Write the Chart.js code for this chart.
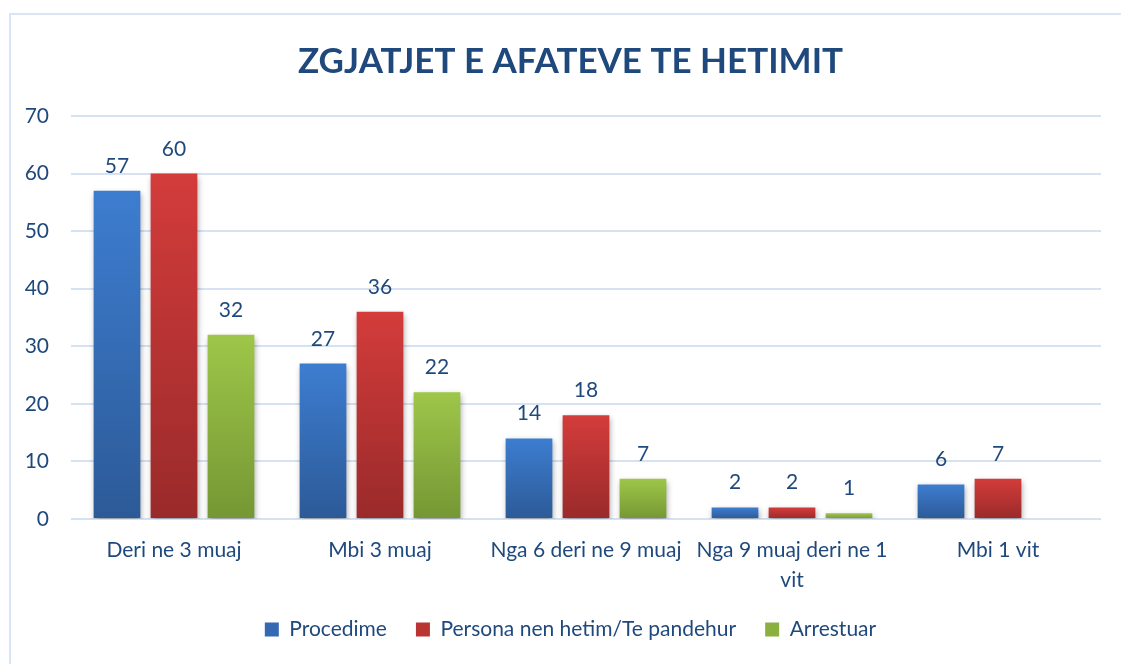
<!DOCTYPE html>
<html>
<head>
<meta charset="utf-8">
<script src="https://cdn.jsdelivr.net/npm/chart.js@4.4.1/dist/chart.umd.min.js"></script>
<style>
  html, body { margin: 0; padding: 0; background: #fff; overflow: hidden; }
  #wrap { position: relative; width: 1121px; height: 664px; }
  #frame { position: absolute; left: 9px; top: 13px; width: 1200px; height: 700px; border: 2px solid #dae5f3; box-sizing: border-box; }
  #chart { position: absolute; left: 0; top: 0; }
</style>
</head>
<body>
<div id="wrap">
  <div id="frame"></div>
  <canvas id="chart" width="1121" height="664"></canvas>
</div>
<script>
// data
const categories = ['Deri ne 3 muaj', 'Mbi 3 muaj', 'Nga 6 deri ne 9 muaj', ['Nga 9 muaj deri ne 1', 'vit'], 'Mbi 1 vit'];
const procedime = [57, 27, 14, 2, 6];
const personaNenHetim = [60, 36, 18, 2, 7];
const arrestuar = [32, 22, 7, 1, null];
const yTicks = [0, 10, 20, 30, 40, 50, 60, 70];

const textColor = '#1f497d';
const fontFamily = 'Lato, "Open Sans", sans-serif';

// top / bottom colours for each series
const palette = [
    { top: '#3d7dd0', bottom: '#2c5a97', mid: '#3569b3' },
    { top: '#d33c3b', bottom: '#9a2a2a', mid: '#bb3434' },
    { top: '#9ec649', bottom: '#759734', mid: '#8ab03f' }
];

function barGradient(idx) {
    return (context) => {
        const chart = context.chart;
        if (!chart.chartArea || context.raw == null) return palette[idx].mid;
        const y = chart.scales.y;
        const top = y.getPixelForValue(context.raw);
        const base = y.getPixelForValue(0);
        if (base - top < 1) return palette[idx].mid;
        const g = chart.ctx.createLinearGradient(0, top, 0, base);
        g.addColorStop(0, palette[idx].top);
        g.addColorStop(1, palette[idx].bottom);
        return g;
    };
}

// title and legend sit centred on the whole frame, not on the plot
const centerShift = {
    id: 'centerShift',
    afterLayout(chart) {
        [chart.titleBlock, chart.legend].forEach(box => {
            if (box) box.left += 40;
        });
    }
};

// soft shadow under bars
const shadowPlugin = {
    id: 'barShadow',
    beforeDatasetDraw(chart) {
        const ctx = chart.ctx;
        ctx.save();
        ctx.shadowColor = 'rgba(0,0,0,0.35)';
        ctx.shadowBlur = 6;
        ctx.shadowOffsetX = 1;
        ctx.shadowOffsetY = 3;
    },
    afterDatasetDraw(chart) {
        chart.ctx.restore();
    }
};

// value labels above the bars
const valueLabels = {
    id: 'valueLabels',
    afterDatasetsDraw(chart) {
        const ctx = chart.ctx;
        ctx.save();
        ctx.font = '21px ' + fontFamily;
        ctx.fillStyle = textColor;
        ctx.textAlign = 'center';
        ctx.textBaseline = 'alphabetic';
        chart.data.datasets.forEach((ds, i) => {
            const meta = chart.getDatasetMeta(i);
            meta.data.forEach((bar, j) => {
                const v = ds.data[j];
                if (v == null) return;
                ctx.fillText(String(v), bar.x, bar.y - 18);
            });
        });
        ctx.restore();
    }
};

new Chart(document.getElementById('chart'), {
    type: 'bar',
    data: {
        labels: categories,
        datasets: [
            { label: 'Procedime', data: procedime, backgroundColor: barGradient(0) },
            { label: 'Persona nen hetim/Te pandehur', data: personaNenHetim, backgroundColor: barGradient(1) },
            { label: 'Arrestuar', data: arrestuar, backgroundColor: barGradient(2) }
        ]
    },
    options: {
        responsive: false,
        animation: false,
        devicePixelRatio: 1,
        categoryPercentage: 0.83,
        barPercentage: 0.82,
        layout: { padding: { left: 0, right: 20, top: 0, bottom: 14 } },
        plugins: {
            title: {
                display: true,
                text: 'ZGJATJET E AFATEVE TE HETIMIT',
                color: textColor,
                font: { family: fontFamily, size: 35, weight: 'bold' },
                padding: { top: 41, bottom: 33 }
            },
            legend: {
                position: 'bottom',
                labels: {
                    color: textColor,
                    font: { family: fontFamily, size: 21 },
                    boxWidth: 14,
                    boxHeight: 14,
                    padding: 29,
                    generateLabels(chart) {
                        return chart.data.datasets.map((ds, i) => ({
                            text: ds.label,
                            fillStyle: palette[i].mid,
                            strokeStyle: palette[i].mid,
                            lineWidth: 0,
                            fontColor: textColor,
                            datasetIndex: i,
                            hidden: false
                        }));
                    }
                }
            },
            tooltip: { enabled: false }
        },
        scales: {
            x: {
                grid: { display: false },
                border: { display: false },
                afterFit(scale) { scale.height = 71; },
                ticks: {
                    color: textColor,
                    font: { family: fontFamily, size: 21, lineHeight: 1.4 },
                    padding: 9,
                    maxRotation: 0,
                    autoSkip: false
                }
            },
            y: {
                min: 0,
                max: 70,
                afterBuildTicks(scale) {
                    scale.ticks = yTicks.map(v => ({ value: v }));
                },
                afterFit(scale) { scale.width = 71; },
                grid: { color: '#d6e2f2', lineWidth: 2, drawTicks: false },
                border: { display: false },
                ticks: {
                    color: textColor,
                    font: { family: fontFamily, size: 21 },
                    padding: 22
                }
            }
        }
    },
    plugins: [centerShift, shadowPlugin, valueLabels]
});
</script>
</body>
</html>
